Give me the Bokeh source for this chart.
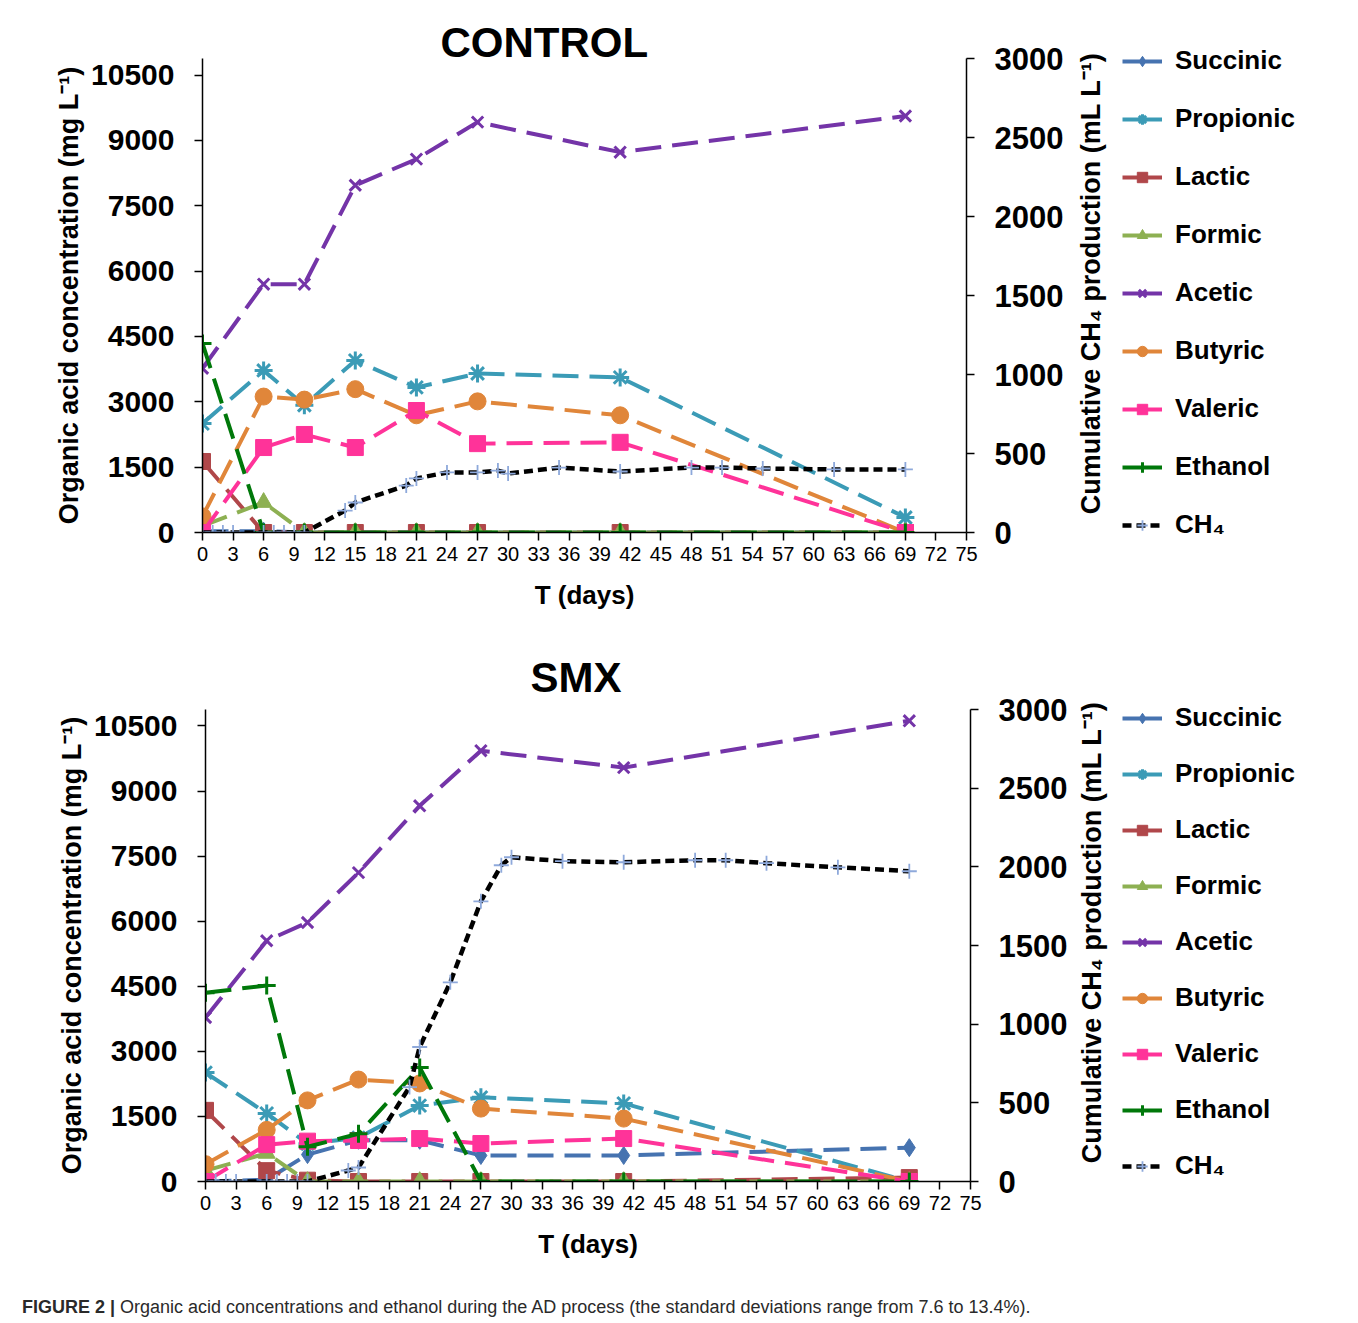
import math
from bokeh.plotting import figure
from bokeh.models import Range1d, LinearAxis, Legend, LegendItem, FixedTicker, Div
from bokeh.layouts import column, row
from bokeh.core.properties import value
from bokeh.embed import file_html
from bokeh.resources import INLINE

# ---------------- data ----------------
days = [0, 6, 10, 15, 21, 27, 41, 69]
ch4_days = [0, 1, 2, 3, 6, 7, 8, 9, 10, 14, 15, 20, 21, 24, 27, 29, 30, 35, 41, 48, 51, 55, 62, 69]
x_ticks = list(range(0, 76, 3))
left_ticks = [0, 1500, 3000, 4500, 6000, 7500, 9000, 10500]
right_ticks = [0, 500, 1000, 1500, 2000, 2500, 3000]

series_names = ["Succinic", "Propionic", "Lactic", "Formic", "Acetic", "Butyric", "Valeric", "Ethanol"]

ctrl_succinic = [30, 30, 0, 0, 0, 0, 0, 0]
ctrl_propionic = [2500, 3720, 2920, 3950, 3330, 3650, 3560, 345]
ctrl_lactic = [1630, 0, 0, 0, 0, 0, 0, 0]
ctrl_formic = [150, 690, 0, 0, 0, 0, 0, 0]
ctrl_acetic = [3770, 5700, 5700, 7970, 8570, 9420, 8730, 9560]
ctrl_butyric = [370, 3120, 3050, 3290, 2690, 3010, 2690, 0]
ctrl_valeric = [0, 1950, 2250, 1950, 2800, 2040, 2070, 0]
ctrl_ethanol = [4340, 0, 0, 0, 0, 0, 0, 0]
ctrl_ch4 = [0, 0, 0, 0, 0, 0, 0, 0, 0, 139, 190, 297, 342, 380, 380, 392, 373, 411, 386, 411, 411, 405, 399, 399]

smx_succinic = [0, 40, 620, 950, 950, 600, 600, 780]
smx_propionic = [2510, 1570, 870, 1010, 1750, 1940, 1800, 0]
smx_lactic = [1640, 250, 30, 0, 0, 0, 0, 90]
smx_formic = [250, 650, 0, 0, 0, 0, 0, 0]
smx_acetic = [3780, 5550, 5970, 7120, 8660, 9930, 9540, 10620]
smx_butyric = [400, 1190, 1870, 2350, 2260, 1680, 1450, 0]
smx_valeric = [0, 850, 930, 945, 990, 875, 990, 0]
smx_ethanol = [4350, 4520, 800, 1100, 2630, 0, 0, 0]
smx_ch4 = [0, 0, 0, 0, 0, 0, 0, 0, 0, 70, 89, 600, 855, 1266, 1781, 2010, 2061, 2036, 2029, 2042, 2042, 2023, 1997, 1972]

# ---------------- style ----------------
FONT = "Liberation Sans"
TOTAL_W = 1342
RIGHT_AXIS_W = 105
RIGHT_LABEL = "Cumulative CH\u2084 production (mL L\u207b\u00b9)"
NAN = [float("nan")]  # legend-only placeholder glyphs (never visible)
colors = {"Succinic": "#4673B0", "Propionic": "#3B9BB6", "Lactic": "#B0474A", "Formic": "#8DB052",
          "Acetic": "#7434A8", "Butyric": "#E0863A", "Valeric": "#FF3399", "Ethanol": "#00780A"}
markers = {"Succinic": "diamond", "Propionic": "asterisk", "Lactic": "square", "Formic": "triangle",
           "Acetic": "x", "Butyric": "circle", "Valeric": "square", "Ethanol": "cross"}
msize = {"Succinic": 18, "Propionic": 18, "Lactic": 16, "Formic": 17, "Acetic": 16,
         "Butyric": 17, "Valeric": 16, "Ethanol": 18}


def add_marker(p, x, y, name, **kw):
    c = colors[name]
    mk = markers[name]
    if mk in ("asterisk", "x", "cross"):
        return p.scatter(x, y, marker=mk, size=msize[name], line_color=c, line_width=3, **kw)
    return p.scatter(x, y, marker=mk, size=msize[name], fill_color=c, line_color=c, line_width=1, **kw)


def no_align(fig):
    if hasattr(fig, "frame_align"):
        fig.frame_align = False


def make_main(title, title_offset, title_standoff, vals, ch4, border_left, border_top,
              frame_w, frame_h, border_bottom):
    p = figure(width=border_left + frame_w + RIGHT_AXIS_W, height=border_top + frame_h + border_bottom,
               x_range=Range1d(0, 75), y_range=Range1d(0, 10880),
               output_backend="svg", toolbar_location=None,
               min_border_left=border_left, min_border_right=RIGHT_AXIS_W,
               min_border_top=border_top, min_border_bottom=border_bottom,
               title=title)
    no_align(p)
    p.extra_y_ranges = {"ch4": Range1d(0, 3000)}
    p.outline_line_color = None
    p.xgrid.visible = False
    p.ygrid.visible = False
    p.title.align = "left"
    p.title.offset = title_offset
    p.title.standoff = title_standoff
    p.title.text_font = FONT
    p.title.text_font_size = "42px"
    p.title.text_font_style = "bold"
    p.title.text_color = "black"

    right = LinearAxis(y_range_name="ch4")
    p.add_layout(right, "right")

    for ax in [p.xaxis[0], p.yaxis[0], right]:
        ax.axis_line_color = "black"
        ax.axis_line_width = 1.5
        ax.major_tick_line_color = "black"
        ax.major_tick_line_width = 1.5
        ax.major_tick_out = 8
        ax.major_tick_in = 0
        ax.minor_tick_out = 0
        ax.minor_tick_in = 0
        ax.major_label_text_color = "black"
        ax.major_label_text_font = FONT
        ax.axis_label_text_font = FONT
        ax.axis_label_text_font_style = "bold"
        ax.axis_label_text_color = "black"

    xa = p.xaxis[0]
    xa.ticker = FixedTicker(ticks=x_ticks)
    xa.major_label_text_font_size = "20px"
    xa.major_label_standoff = 6
    xa.axis_label = "T (days)"
    xa.axis_label_text_font_size = "26px"
    xa.axis_label_standoff = 16

    ya = p.yaxis[0]
    ya.ticker = FixedTicker(ticks=left_ticks)
    ya.major_label_text_font_size = "30px"
    ya.major_label_text_font_style = "bold"
    ya.major_label_standoff = 20
    ya.axis_label = "Organic acid concentration (mg L\u207b\u00b9)"
    ya.axis_label_text_font_size = "27px"
    ya.axis_label_standoff = 4

    right.ticker = FixedTicker(ticks=right_ticks)
    right.major_label_text_font_size = "31px"
    right.major_label_text_font_style = "bold"
    right.major_label_standoff = 20

    for name in series_names:
        y = vals[name]
        p.line(days, y, line_color=colors[name], line_width=4, line_dash="26 11")
        add_marker(p, days, y, name)

    p.line(ch4_days, ch4, line_color="black", line_width=4.5, line_dash="9 5", y_range_name="ch4")
    p.scatter(ch4_days, ch4, marker="cross", size=15, line_color="#8EA9DB", line_width=1.8,
              y_range_name="ch4")
    return p


def make_side(width, height, label_x, label_y, legend_loc, spacing):
    s = figure(width=width, height=height, x_range=Range1d(0, width), y_range=Range1d(0, height),
               x_axis_type=None, y_axis_type=None, output_backend="svg", toolbar_location=None,
               min_border=0)
    no_align(s)
    s.outline_line_color = None
    s.text(x=[label_x], y=[label_y], text=[RIGHT_LABEL], angle=math.pi / 2,
           text_align="center", text_baseline="middle", text_font=value(FONT),
           text_font_size="27px", text_font_style="bold", text_color="black")
    items = []
    for name in series_names:
        lr = s.line(NAN, NAN, line_color=colors[name], line_width=4)
        sr = add_marker(s, NAN, NAN, name)
        items.append(LegendItem(label=name, renderers=[lr, sr]))
    lr = s.line(NAN, NAN, line_color="black", line_width=4.5, line_dash="9 5")
    sr = s.scatter(NAN, NAN, marker="cross", size=15, line_color="#8EA9DB", line_width=1.8)
    items.append(LegendItem(label="CH\u2084", renderers=[lr, sr]))
    leg = Legend(items=items, location=legend_loc, spacing=spacing, padding=0, margin=0,
                 glyph_width=40, glyph_height=26, label_standoff=13,
                 label_text_font=FONT, label_text_font_size="26px", label_text_font_style="bold",
                 label_text_color="black", border_line_alpha=0, background_fill_alpha=0)
    s.add_layout(leg, "center")
    return s


ctrl_vals = dict(zip(series_names, [ctrl_succinic, ctrl_propionic, ctrl_lactic, ctrl_formic,
                                    ctrl_acetic, ctrl_butyric, ctrl_valeric, ctrl_ethanol]))
smx_vals = dict(zip(series_names, [smx_succinic, smx_propionic, smx_lactic, smx_formic,
                                   smx_acetic, smx_butyric, smx_valeric, smx_ethanol]))

p1 = make_main("CONTROL", 238, -14, ctrl_vals, ctrl_ch4, 202, 58, 764, 474, 95)
p2 = make_main("SMX", 325, 17, smx_vals, smx_ch4, 205, 82, 765, 472, 95)

w1 = TOTAL_W - p1.width
w2 = TOTAL_W - p2.width
s1 = make_side(w1, p1.height, 1090 - p1.width, 344, (1122 - p1.width, 87), 27)
s2 = make_side(w2, p2.height, 1091 - p2.width, 344, (1122 - p2.width, 95), 25)

caption = Div(text="<div style=\"font-family:'Liberation Sans',Arial,sans-serif;font-size:18px;color:#2a2a2a;"
                   "padding-left:17px;padding-top:14px;white-space:nowrap;\"><b>FIGURE 2 |</b> Organic acid "
                   "concentrations and ethanol during the AD process (the standard deviations range from "
                   "7.6 to 13.4%).</div>",
              width=TOTAL_W, height=45)

layout = column(row(p1, s1), row(p2, s2), caption)
open("out.html", "w").write(file_html(layout, INLINE))
